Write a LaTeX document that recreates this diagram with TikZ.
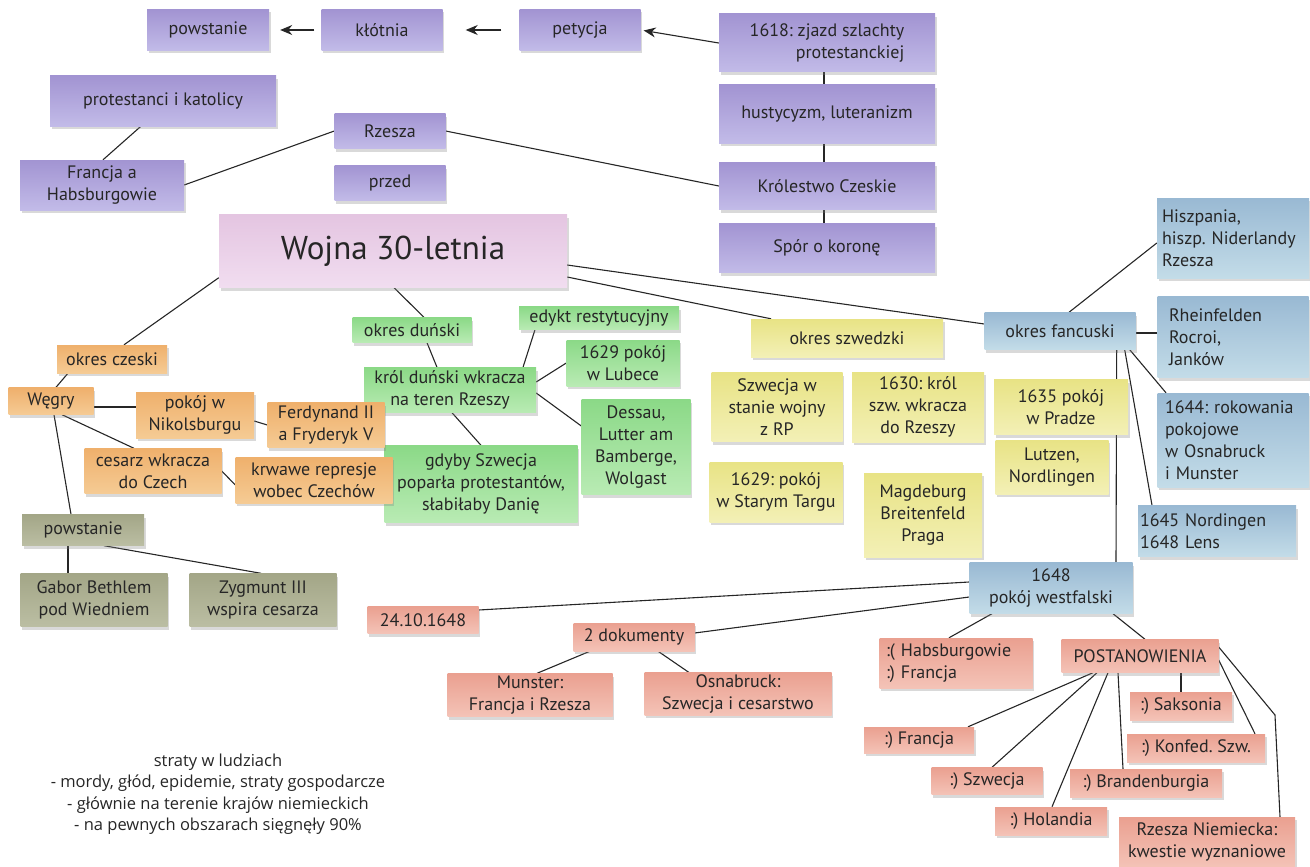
\documentclass[tikz,border=0pt]{standalone}
\usepackage{fontspec}
\setmainfont{PT Sans}
\newfontfamily\opisfont{Open Sans}
\usetikzlibrary{arrows.meta,shadows,backgrounds}
\frenchspacing

\definecolor{fioletG}{HTML}{A294D2}
\definecolor{fioletD}{HTML}{C2BBE8}
\definecolor{rozG}{HTML}{E4C5E1}
\definecolor{rozD}{HTML}{F1DDF0}
\definecolor{pomG}{HTML}{EFB06C}
\definecolor{pomD}{HTML}{F5CB94}
\definecolor{oliwG}{HTML}{A3A687}
\definecolor{oliwD}{HTML}{BBBEA3}
\definecolor{zielG}{HTML}{8BD987}
\definecolor{zielD}{HTML}{B9EBB4}
\definecolor{zoltG}{HTML}{E8E385}
\definecolor{zoltD}{HTML}{F3F0B6}
\definecolor{niebG}{HTML}{99B9D3}
\definecolor{niebD}{HTML}{C3DCE8}
\definecolor{lososG}{HTML}{EAA090}
\definecolor{lososD}{HTML}{F4C3B7}

\begin{document}
\begin{tikzpicture}[x=1pt,y=-1pt,
    kartka/.style={inner sep=2pt,align=center,text=black!85,
      font=\fontsize{18}{22}\selectfont,
      drop shadow={opacity=0.3,shadow xshift=1.5pt,shadow yshift=-3pt}},
    rozm/.style 2 args={minimum width=#1pt,minimum height=#2pt},
    fiolet/.style={kartka,top color=fioletG,bottom color=fioletD},
    tytul/.style={kartka,top color=rozG,bottom color=rozD,font=\fontsize{33}{38}\selectfont},
    pomarancz/.style={kartka,top color=pomG,bottom color=pomD},
    oliwka/.style={kartka,top color=oliwG,bottom color=oliwD},
    ziel/.style={kartka,top color=zielG,bottom color=zielD},
    zolty/.style={kartka,top color=zoltG,bottom color=zoltD},
    nieb/.style={kartka,top color=niebG,bottom color=niebD},
    losos/.style={kartka,top color=lososG,bottom color=lososD},
    linia/.style={draw=black!85,line width=1.1pt},
    strzalka/.style={linia,-{Stealth[length=12pt,width=10pt]}}]
\useasboundingbox (0,0) rectangle (1310,867);

% przed wojna
\node[fiolet,rozm={122}{41}] (Powstanie) at (208,30) {powstanie};
\node[fiolet,rozm={121}{41}] (Klotnia) at (382,30) {kłótnia};
\node[fiolet,rozm={121}{41}] (Petycja) at (580,30) {petycja};
\node[fiolet,rozm={216}{58},align=right] (Zjazd) at (827,43) {1618: zjazd szlachty\\protestanckiej};
\node[fiolet,rozm={216}{58}] (Husytyzm) at (827,114) {hustycyzm, luteranizm};
\node[fiolet,rozm={216}{47}] (Krolestwo) at (827,186) {Królestwo Czeskie};
\node[fiolet,rozm={216}{49}] (Spor) at (827,248) {Spór o koronę};
\node[fiolet,rozm={226}{50}] (Protestanci) at (163,101) {protestanci i katolicy};
\node[fiolet,rozm={164}{50}] (Francja) at (102,185) {Francja a\\Habsburgowie};
\node[fiolet,rozm={111}{35}] (Rzesza) at (390,131) {Rzesza};
\node[fiolet,rozm={111}{35}] (Przed) at (390,183) {przed};

\node[tytul,rozm={348}{73}] (Tytul) at (393,251) {Wojna 30-letnia};

% okres dunski
\node[ziel,rozm={119}{25}] (OkresDunski) at (412,330) {okres duński};
\node[ziel,rozm={160}{23}] (Edykt) at (599,318) {edykt restytucyjny};
\node[ziel,rozm={172}{45}] (KrolDunski) at (450,390) {król duński wkracza\\na teren Rzeszy};
\node[ziel,rozm={113}{46}] (Lubeka) at (623,363) {1629 pokój\\w Lubece};
\node[ziel,rozm={109}{95}] (Dessau) at (636,447) {Dessau,\\Lutter am\\Bamberge,\\Wolgast};
\node[ziel,rozm={193}{77}] (Gdyby) at (481,484) {gdyby Szwecja\\poparła protestantów,\\słabiłaby Danię};

% okres czeski
\node[pomarancz,rozm={110}{28}] (OkresCzeski) at (112,359) {okres czeski};
\node[pomarancz,rozm={85}{27}] (Wegry) at (51,401) {Węgry};
\node[pomarancz,rozm={118}{46}] (Nikolsburg) at (195,415) {pokój w\\Nikolsburgu};
\node[pomarancz,rozm={117}{45}] (Ferdynand) at (326,425) {Ferdynand II\\a Fryderyk V};
\node[pomarancz,rozm={137}{45}] (Cesarz) at (153,471) {cesarz wkracza\\do Czech};
\node[pomarancz,rozm={157}{46}] (Represje) at (314,480) {krwawe represje\\wobec Czechów};
\node[oliwka,rozm={122}{31}] (PowstanieW) at (83,530) {powstanie};
\node[oliwka,rozm={147}{53}] (Gabor) at (94,600) {Gabor Bethlem\\pod Wiedniem};
\node[oliwka,rozm={147}{53}] (Zygmunt) at (263,600) {Zygmunt III\\wspira cesarza};

% okres szwedzki
\node[zolty,rozm={192}{38}] (OkresSzwedzki) at (847,338) {okres szwedzki};
\node[zolty,rozm={131}{69}] (SzwecjaRP) at (777,407) {Szwecja w\\stanie wojny\\z RP};
\node[zolty,rozm={132}{70}] (Krol1630) at (918,407) {1630: król\\szw. wkracza\\do Rzeszy};
\node[zolty,rozm={133}{60}] (StaryTarg) at (776,492) {1629: pokój\\w Starym Targu};
\node[zolty,rozm={118}{84}] (Magdeburg) at (923,515) {Magdeburg\\Breitenfeld\\Praga};
\node[zolty,rozm={134}{55}] (Praga1635) at (1061,407) {1635 pokój\\w Pradze};
\node[zolty,rozm={113}{54}] (Lutzen) at (1052,467) {Lutzen,\\Nordlingen};

% okres francuski
\node[nieb,rozm={151}{37}] (OkresFr) at (1060,331) {okres fancuski};
\node[nieb,rozm={152}{80},align=left,text width=142pt] (Hiszpania) at (1233,238) {Hiszpania,\\hiszp. Niderlandy\\Rzesza};
\node[nieb,rozm={151}{81},align=left,text width=128pt] (Rheinfelden) at (1233,337) {Rheinfelden\\Rocroi,\\Janków};
\node[nieb,rozm={151}{94},align=left,text width=136pt] (Rokowania) at (1233,440) {1644: rokowania\\pokojowe\\w Osnabruck\\i Munster};
\node[nieb,rozm={158}{51},align=left,text width=154pt] (Lens) at (1217,531) {1645 Nordingen\\1648 Lens};
\node[nieb,rozm={163}{51}] (Westfalski) at (1051,588) {1648\\pokój westfalski};

% pokoj westfalski
\node[losos,rozm={111}{27}] (Data) at (423,620) {24.10.1648};
\node[losos,rozm={121}{28}] (Dokumenty) at (634,637) {2 dokumenty};
\node[losos,rozm={165}{43}] (Munster) at (530,695) {Munster:\\Francja i Rzesza};
\node[losos,rozm={187}{42}] (Osnabruck) at (738,694) {Osnabruck:\\Szwecja i cesarstwo};
\node[losos,rozm={153}{50},align=left,text width=140pt] (Habsburgowie) at (956,663) {:( Habsburgowie\\:) Francja};
\node[losos,rozm={157}{33}] (Postanowienia) at (1140,656) {POSTANOWIENIA};
\node[losos,rozm={110}{26}] (Francja2) at (919,740) {:) Francja};
\node[losos,rozm={111}{27}] (Szwecja) at (987,781) {:) Szwecja};
\node[losos,rozm={112}{28}] (Holandia) at (1051,821) {:) Holandia};
\node[losos,rozm={152}{28}] (Brandenburgia) at (1146,783) {:) Brandenburgia};
\node[losos,rozm={102}{28}] (Saksonia) at (1181,706) {:) Saksonia};
\node[losos,rozm={138}{28}] (Konfed) at (1196,748) {:) Konfed. Szw.};
\node[losos,rozm={176}{50}] (RzeszaN) at (1207,842) {Rzesza Niemiecka:\\kwestie wyznaniowe};
\coordinate (Zalom) at (1275,715);

\node[align=center,font=\opisfont\fontsize{16.5}{21.5}\selectfont,text=black!85] (Straty) at (218,794) {straty w ludziach\\- mordy, głód, epidemie, straty gospodarcze\\- głównie na terenie krajów niemieckich\\- na pewnych obszarach sięgnęły 90\%};

\begin{scope}[on background layer]
\draw[strzalka,shorten <=7pt,shorten >=11pt] (Klotnia.west) -- (Powstanie.east);
\draw[strzalka,shorten <=18pt,shorten >=23pt] (Petycja.west) -- (Klotnia.east);
\draw[strzalka,shorten >=3pt] (Zjazd.west) -- (Petycja.east);
\draw[linia] ([xshift=-3pt]Zjazd.south) -- ([xshift=-3pt]Husytyzm.north);
\draw[linia] ([xshift=-3pt]Husytyzm.south) -- ([xshift=-3pt]Krolestwo.north);
\draw[linia] ([xshift=-3pt]Krolestwo.south) -- ([xshift=-3pt]Spor.north);
\draw[linia] ([xshift=-22pt]Protestanci.south) -- ([xshift=1pt]Francja.north);
\draw[linia] (Francja.east) -- (Rzesza.west);
\draw[linia] (Rzesza.east) -- (Krolestwo.west);

\draw[linia] ([yshift=10pt]Tytul.south west) -- ([xshift=12pt]OkresCzeski.north);
\draw[linia] ([xshift=1pt]Tytul.south) -- ([xshift=12pt]OkresDunski.north);
\draw[linia] ([yshift=-14pt]Tytul.east) -- ([yshift=7pt]OkresFr.west);
\draw[linia] ([yshift=-26pt]Tytul.east) -- ([xshift=-76pt]OkresSzwedzki.north);

\draw[linia] ([xshift=-44pt]OkresCzeski.south) -- ([xshift=5pt]Wegry.north);
\draw[linia] ([yshift=-6pt]Wegry.east) -- ([yshift=8pt]Nikolsburg.west);
\draw[linia] ([yshift=-6pt]Nikolsburg.east) -- (Ferdynand.west);
\draw[linia] ([xshift=11pt]Wegry.south) -- ([xshift=-19pt]Cesarz.north);
\draw[linia] (Cesarz.east) -- ([yshift=-5pt]Represje.west);
\draw[linia] ([xshift=3pt]Wegry.south) -- ([xshift=-12pt]PowstanieW.north);
\draw[linia] ([xshift=-15pt]PowstanieW.south) -- ([xshift=-26pt]Gabor.north);
\draw[linia] ([xshift=21pt]PowstanieW.south) -- ([xshift=-2pt]Zygmunt.north);

\draw[linia] ([xshift=15pt]OkresDunski.south) -- ([xshift=-13pt]KrolDunski.north);
\draw[linia] ([xshift=73pt]KrolDunski.north) -- ([xshift=-64pt]Edykt.south);
\draw[linia] ([yshift=8pt]KrolDunski.east) -- (Lubeka.west);
\draw[linia] ([yshift=-3pt]KrolDunski.east) -- ([yshift=21pt]Dessau.west);
\draw[linia] ([xshift=2pt]KrolDunski.south) -- (Gdyby.north);

\draw[linia] ([xshift=9pt]OkresFr.north) -- ([yshift=-5pt]Hiszpania.west);
\draw[linia] ([yshift=-2pt]OkresFr.east) -- ([yshift=4pt]Rheinfelden.west);
\draw[linia] ([xshift=-6pt]OkresFr.south east) -- ([xshift=-67pt]Rokowania.north);
\draw[linia] ([xshift=-11pt]OkresFr.south east) -- ([xshift=-65pt]Lens.north);
\draw[linia] ([xshift=-19pt]OkresFr.south east) -- ([xshift=65pt]Westfalski.north);

\draw[linia] ([yshift=6pt]Westfalski.west) -- ([yshift=10pt]Data.east);
\draw[linia] ([yshift=-9pt]Westfalski.west) -- ([yshift=4pt]Dokumenty.east);
\draw[linia] ([xshift=-59pt]Westfalski.south) -- ([xshift=-7pt]Habsburgowie.north);
\draw[linia] ([xshift=62pt]Westfalski.south) -- ([xshift=5pt]Postanowienia.north);
\draw[linia] ([xshift=-44pt]Dokumenty.south) -- ([xshift=7pt]Munster.north);
\draw[linia] ([xshift=24pt]Dokumenty.south) -- ([xshift=-49pt]Osnabruck.north);
\draw[linia] ([xshift=-47pt]Postanowienia.south) -- ([xshift=49pt]Francja2.north);
\draw[linia] ([xshift=-43pt]Postanowienia.south) -- ([xshift=5pt]Szwecja.north);
\draw[linia] ([xshift=-32pt]Postanowienia.south) -- ([xshift=1pt]Holandia.north);
\draw[linia] ([xshift=-22pt]Postanowienia.south) -- ([xshift=-23pt]Brandenburgia.north);
\draw[linia] ([xshift=41pt]Postanowienia.south) -- (Saksonia.north);
\draw[linia] ([yshift=-4pt]Postanowienia.east) -- ([xshift=59pt]Konfed.north);
\draw[linia] ([yshift=9pt]Postanowienia.east) -- (Zalom) -- ([xshift=73pt]RzeszaN.north);
\end{scope}
\end{tikzpicture}
\end{document}
